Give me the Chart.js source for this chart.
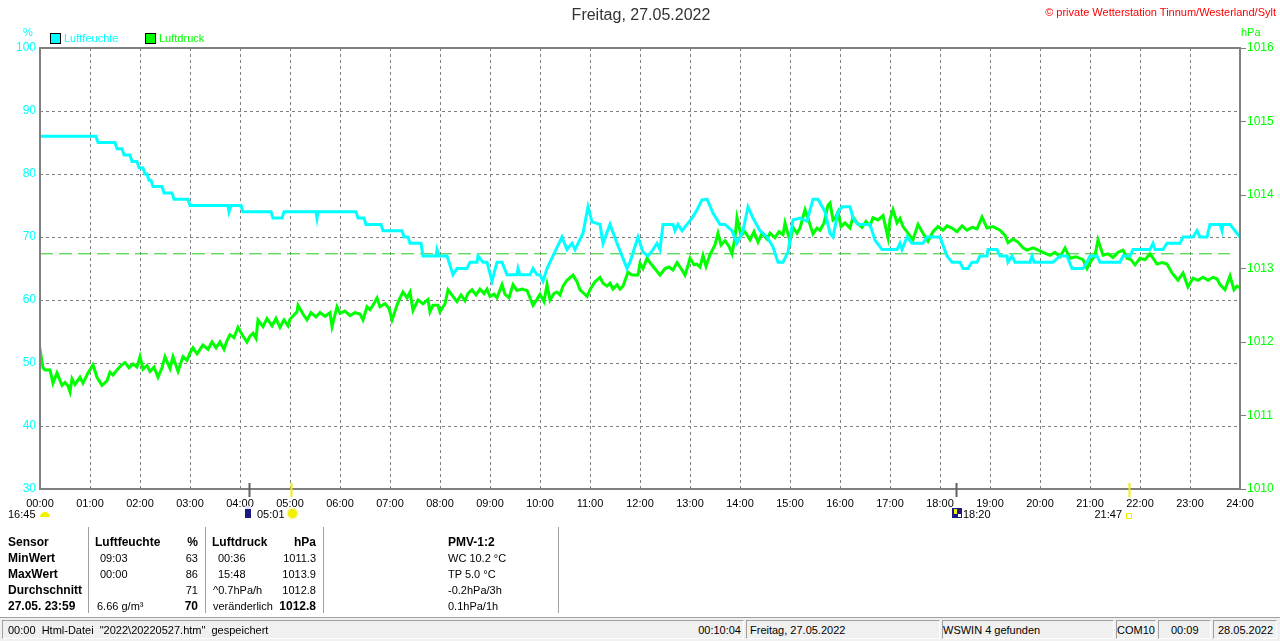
<!DOCTYPE html>
<html lang="de">
<head>
<meta charset="utf-8">
<title>Freitag, 27.05.2022</title>
<script src="https://cdn.jsdelivr.net/npm/chart.js@4.4.1/dist/chart.umd.min.js"></script>
<style>
html, body { margin: 0; padding: 0; background: #fff; }
body {
  width: 1280px; height: 641px; overflow: hidden; position: relative;
  font-family: "Liberation Sans", Arial, sans-serif; font-size: 11px; color: #000;
}
#wrap { position: absolute; left: 0; top: 0; width: 1280px; height: 520px; }
.t { position: absolute; white-space: pre; line-height: 14px; transform: translateY(-50%); }
.t.r { transform: translate(-100%, -50%); }
.t.c { transform: translate(-50%, -50%); }
.b { font-weight: bold; font-size: 12px; }
.box { position: absolute; width: 9px; height: 9px; border: 1px solid #000; }
.sep { position: absolute; top: 527px; height: 86px; width: 1px; background: #a0a0a0; border-right: 1px solid #fff; }
#status { position: absolute; left: 0; top: 617px; width: 1280px; height: 24px; background: #f0f0f0; border-top: 1px solid #a0a0a0; }
.panel { position: absolute; top: 2px; height: 19px; border-top: 1px solid #a0a0a0; border-left: 1px solid #a0a0a0;
  border-bottom: 1px solid #fff; border-right: 1px solid #fff; box-sizing: border-box; }
.icon { position: absolute; }
</style>
</head>
<body>
<div id="wrap"><canvas id="chart"></canvas></div>
<div id="status"></div>

<script>
// ── Data ───────────────────────────────────────
// hours since midnight
const humTimes = [
  0, 1.12, 1.16, 1.5, 1.54, 1.64, 1.68, 1.8, 1.84, 1.94, 1.98, 2.06, 2.1, 2.14, 2.18, 2.22, 2.26, 2.44,
  2.48, 2.64, 2.68, 2.96, 3.0, 3.76, 3.78, 3.82, 4.02, 4.06, 4.62, 4.66, 4.84, 4.88, 5.52, 5.54, 5.56,
  6.32, 6.36, 6.48, 6.52, 6.82, 6.86, 7.24, 7.28, 7.36, 7.4, 7.62, 7.66, 7.92, 7.94, 7.98, 8.14, 8.26,
  8.34, 8.54, 8.6, 8.74, 8.76, 8.86, 8.94, 9.04, 9.14, 9.24, 9.34, 9.54, 9.56, 9.6, 9.8, 9.86, 9.94,
  10.0, 10.06, 10.14, 10.26, 10.44, 10.54, 10.64, 10.7, 10.86, 10.96, 11.04, 11.2, 11.26, 11.4, 11.54,
  11.64, 11.74, 11.8, 11.96, 12.06, 12.16, 12.26, 12.34, 12.4, 12.46, 12.66, 12.7, 12.76, 12.84, 12.94,
  13.04, 13.14, 13.24, 13.34, 13.46, 13.6, 13.7, 13.84, 13.94, 14.06, 14.16, 14.26, 14.4, 14.54, 14.66,
  14.76, 14.86, 14.96, 15.06, 15.2, 15.34, 15.46, 15.56, 15.7, 15.8, 15.86, 15.96, 16.04, 16.2, 16.26,
  16.36, 16.6, 16.7, 16.84, 17.14, 17.2, 17.24, 17.34, 17.44, 17.66, 17.74, 18.0, 18.14, 18.24, 18.4,
  18.46, 18.56, 18.64, 18.74, 18.8, 18.94, 18.96, 19.14, 19.2, 19.34, 19.36, 19.44, 19.5, 19.8, 19.84,
  19.88, 20.26, 20.4, 20.54, 20.64, 20.86, 20.94, 21.0, 21.14, 21.2, 21.6, 21.66, 21.8, 21.86, 22.2,
  22.26, 22.3, 22.46, 22.54, 22.8, 22.86, 23.06, 23.14, 23.2, 23.34, 23.4, 23.6, 23.64, 23.66, 23.8,
  23.9, 24.0
];
const humValues = [
  86, 86, 85, 85, 84, 84, 83, 83, 82, 82, 81, 81, 80, 80, 79, 79, 78, 78,
  77, 77, 76, 76, 75, 75, 74, 75, 75, 74, 74, 73, 73, 74, 74, 73, 74,
  74, 73, 73, 72, 72, 71, 71, 70, 70, 69, 69, 67, 67, 68, 67, 67, 64,
  65, 65, 66, 66, 67, 66, 66, 63, 66, 66, 64, 64, 65, 64, 64, 65, 64,
  64, 63, 65, 67, 70, 68, 69, 68, 70.6, 74.8, 72.4, 72, 69, 72, 69,
  67, 65, 66, 70, 67.6, 67, 68, 69, 68, 72, 72, 71, 72, 71, 72,
  73, 74.3, 75.9, 76, 73.8, 72, 72, 71, 69, 71, 74.8, 73, 71, 70, 68.4,
  66, 66, 67.6, 72.7, 73, 72.5, 76, 76, 74, 70.6, 70, 74, 74.8, 74.8, 73,
  72, 72, 69.5, 68, 68, 69, 68, 70, 69, 69, 70, 70, 67, 66, 66,
  65, 65, 66, 66, 67, 67, 68, 68, 67, 67, 66, 67, 66, 66, 67,
  66, 66, 67, 67, 65, 65, 66, 67, 67, 66, 66, 67, 67, 68, 68,
  69, 68, 68, 69, 69, 70, 70, 71, 70, 70, 72, 72, 71, 72, 72,
  71, 70
];

const presTimes = [
  0, 0.02, 0.06, 0.1, 0.2, 0.26, 0.34, 0.44, 0.5, 0.56, 0.6, 0.64, 0.7, 0.74, 0.8, 0.86, 0.96, 1.06,
  1.14, 1.24, 1.34, 1.4, 1.46, 1.54, 1.62, 1.7, 1.78, 1.86, 1.94, 2.0, 2.06, 2.14, 2.2, 2.28, 2.36,
  2.44, 2.5, 2.6, 2.66, 2.76, 2.86, 2.94, 3.0, 3.06, 3.14, 3.2, 3.26, 3.36, 3.44, 3.52, 3.6, 3.68,
  3.74, 3.8, 3.88, 3.96, 4.06, 4.14, 4.2, 4.26, 4.32, 4.36, 4.46, 4.54, 4.64, 4.72, 4.8, 4.88, 4.96,
  5.0, 5.14, 5.16, 5.26, 5.34, 5.42, 5.52, 5.6, 5.7, 5.8, 5.84, 5.94, 6.0, 6.1, 6.2, 6.3, 6.4, 6.46,
  6.54, 6.6, 6.66, 6.74, 6.8, 6.9, 6.98, 7.04, 7.14, 7.2, 7.26, 7.34, 7.4, 7.46, 7.56, 7.66, 7.76,
  7.8, 7.86, 7.96, 8.0, 8.1, 8.16, 8.26, 8.34, 8.42, 8.5, 8.56, 8.64, 8.72, 8.8, 8.88, 8.94, 9.0,
  9.08, 9.14, 9.24, 9.3, 9.38, 9.46, 9.54, 9.64, 9.74, 9.8, 9.86, 9.94, 10.0, 10.08, 10.14, 10.2,
  10.28, 10.34, 10.4, 10.46, 10.54, 10.66, 10.74, 10.8, 10.88, 10.94, 11.0, 11.1, 11.2, 11.26, 11.34,
  11.4, 11.46, 11.54, 11.6, 11.66, 11.76, 11.84, 11.96, 12.0, 12.06, 12.14, 12.2, 12.26, 12.34, 12.4,
  12.5, 12.58, 12.66, 12.74, 12.82, 12.9, 12.96, 13.0, 13.08, 13.14, 13.2, 13.26, 13.32, 13.4, 13.5,
  13.56, 13.62, 13.7, 13.78, 13.84, 13.9, 13.94, 14.02, 14.1, 14.2, 14.28, 14.36, 14.44, 14.54, 14.6,
  14.7, 14.78, 14.86, 14.9, 15.0, 15.06, 15.14, 15.2, 15.3, 15.38, 15.46, 15.54, 15.6, 15.68, 15.76,
  15.8, 15.86, 15.9, 15.96, 16.02, 16.1, 16.2, 16.26, 16.34, 16.44, 16.52, 16.6, 16.66, 16.76, 16.86,
  16.96, 17.0, 17.06, 17.14, 17.2, 17.26, 17.36, 17.46, 17.56, 17.66, 17.76, 17.86, 17.96, 18.06,
  18.14, 18.24, 18.34, 18.44, 18.54, 18.64, 18.74, 18.84, 18.94, 19.06, 19.2, 19.3, 19.36, 19.46,
  19.56, 19.66, 19.74, 19.86, 20.0, 20.06, 20.2, 20.3, 20.4, 20.5, 20.6, 20.72, 20.86, 20.94, 21.0,
  21.1, 21.16, 21.26, 21.36, 21.46, 21.56, 21.66, 21.74, 21.82, 21.9, 22.0, 22.1, 22.2, 22.26, 22.34,
  22.44, 22.54, 22.64, 22.76, 22.86, 22.96, 23.06, 23.16, 23.26, 23.36, 23.46, 23.54, 23.6, 23.7,
  23.8, 23.88, 23.94, 24.0
];
const presValues = [
  1011.75, 1011.82, 1011.65, 1011.62, 1011.62, 1011.44, 1011.58, 1011.41, 1011.45, 1011.40, 1011.32,
  1011.50, 1011.42, 1011.46, 1011.52, 1011.44, 1011.58, 1011.69, 1011.52, 1011.41, 1011.47, 1011.59,
  1011.55, 1011.62, 1011.68, 1011.72, 1011.65, 1011.70, 1011.66, 1011.80, 1011.63, 1011.68, 1011.60,
  1011.66, 1011.52, 1011.65, 1011.80, 1011.64, 1011.80, 1011.60, 1011.80, 1011.75, 1011.85, 1011.92,
  1011.84, 1011.90, 1011.96, 1011.90, 1012.00, 1011.92, 1012.00, 1011.90, 1012.02, 1012.10, 1012.06,
  1012.20, 1012.08, 1012.00, 1012.08, 1012.12, 1012.05, 1012.30, 1012.21, 1012.32, 1012.22, 1012.32,
  1012.20, 1012.30, 1012.22, 1012.31, 1012.41, 1012.50, 1012.38, 1012.30, 1012.40, 1012.34, 1012.40,
  1012.35, 1012.40, 1012.21, 1012.48, 1012.39, 1012.42, 1012.36, 1012.40, 1012.38, 1012.30, 1012.48,
  1012.44, 1012.50, 1012.60, 1012.48, 1012.52, 1012.46, 1012.30, 1012.50, 1012.60, 1012.68, 1012.60,
  1012.68, 1012.43, 1012.57, 1012.52, 1012.58, 1012.41, 1012.50, 1012.50, 1012.41, 1012.52, 1012.71,
  1012.62, 1012.55, 1012.64, 1012.56, 1012.66, 1012.71, 1012.64, 1012.72, 1012.66, 1012.72, 1012.62,
  1012.65, 1012.60, 1012.78, 1012.65, 1012.60, 1012.78, 1012.70, 1012.72, 1012.70, 1012.60, 1012.50,
  1012.58, 1012.65, 1012.55, 1012.78, 1012.57, 1012.66, 1012.68, 1012.64, 1012.76, 1012.84, 1012.91,
  1012.82, 1012.71, 1012.66, 1012.62, 1012.71, 1012.82, 1012.88, 1012.80, 1012.76, 1012.80, 1012.72,
  1012.78, 1012.72, 1012.76, 1012.95, 1012.91, 1012.91, 1013.07, 1013.00, 1013.14, 1013.08, 1013.03,
  1012.96, 1012.91, 1013.00, 1013.02, 1012.98, 1013.08, 1013.00, 1012.91, 1013.04, 1013.14, 1013.05,
  1013.06, 1013.02, 1013.18, 1013.03, 1013.19, 1013.32, 1013.48, 1013.32, 1013.38, 1013.30, 1013.20,
  1013.42, 1013.69, 1013.45, 1013.50, 1013.39, 1013.50, 1013.36, 1013.48, 1013.40, 1013.48, 1013.42,
  1013.50, 1013.46, 1013.62, 1013.37, 1013.56, 1013.48, 1013.55, 1013.80, 1013.64, 1013.47, 1013.55,
  1013.52, 1013.62, 1013.86, 1013.89, 1013.66, 1013.68, 1013.77, 1013.57, 1013.62, 1013.55, 1013.70,
  1013.62, 1013.56, 1013.64, 1013.58, 1013.69, 1013.66, 1013.72, 1013.42, 1013.67, 1013.80, 1013.62,
  1013.68, 1013.57, 1013.48, 1013.39, 1013.60, 1013.48, 1013.37, 1013.50, 1013.57, 1013.52, 1013.58,
  1013.55, 1013.50, 1013.58, 1013.52, 1013.56, 1013.54, 1013.70, 1013.55, 1013.57, 1013.52, 1013.45,
  1013.35, 1013.40, 1013.36, 1013.28, 1013.25, 1013.28, 1013.24, 1013.22, 1013.18, 1013.22, 1013.16,
  1013.28, 1013.14, 1013.16, 1013.12, 1013.00, 1013.08, 1013.18, 1013.39, 1013.18, 1013.20, 1013.15,
  1013.22, 1013.25, 1013.14, 1013.12, 1013.05, 1013.14, 1013.12, 1013.20, 1013.14, 1013.06, 1013.08,
  1013.06, 1012.94, 1012.84, 1012.94, 1012.75, 1012.87, 1012.84, 1012.88, 1012.84, 1012.88, 1012.86,
  1012.78, 1012.71, 1012.90, 1012.71, 1012.76, 1012.74
];

const refPressure = 1013.2;               // dashed reference line
const markerTimes = [4.18, 5.02, 18.33, 21.78];
const markerColors = ['#606060', '#f0f000', '#606060', '#f0f000'];

// table below the chart
const rowLabels = ['Sensor', 'MinWert', 'MaxWert', 'Durchschnitt', '27.05. 23:59'];
const humTimeCol = ['Luftfeuchte', '09:03', '00:00', '', '6.66 g/m³'];
const humValCol = ['%', '63', '86', '71', '70'];
const presTimeCol = ['Luftdruck', '00:36', '15:48', '^0.7hPa/h', 'veränderlich'];
const presValCol = ['hPa', '1011.3', '1013.9', '1012.8', '1012.8'];
const pmvCol = ['PMV-1:2', 'WC 10.2 °C', 'TP 5.0 °C', '-0.2hPa/3h', '0.1hPa/1h'];

// ── helpers ────────────────────────────────────
function txt(x, y, s, cls, color, size) {
  const d = document.createElement('div');
  d.className = 't ' + (cls || '');
  d.textContent = s;
  d.style.left = x + 'px';
  d.style.top = y + 'px';
  if (color) d.style.color = color;
  if (size) d.style.fontSize = size + 'px';
  document.body.appendChild(d);
  return d;
}
function el(cls, css, parent) {
  const d = document.createElement('div');
  d.className = cls;
  Object.assign(d.style, css);
  (parent || document.body).appendChild(d);
  return d;
}
const toXY = (ts, vs) => ts.map((t, i) => ({ x: t, y: vs[i] }));

// ── chart ──────────────────────────────────────
const framePlugin = {
  id: 'frame',
  afterDraw(chart) {
    const { ctx, chartArea: a, scales } = chart;
    ctx.save();
    ctx.strokeStyle = '#808080';
    ctx.lineWidth = 2;
    ctx.strokeRect(a.left, a.top, a.right - a.left, a.bottom - a.top);
    markerTimes.forEach((t, i) => {
      const x = Math.round(scales.x.getPixelForValue(t)) + 0.5;
      ctx.strokeStyle = markerColors[i];
      ctx.beginPath();
      ctx.moveTo(x, a.bottom - 6);
      ctx.lineTo(x, a.bottom + 8);
      ctx.stroke();
    });
    ctx.restore();
  }
};

const tickFont = { family: '"Liberation Sans", Arial, sans-serif', size: 11 };

new Chart(document.getElementById('chart'), {
  type: 'line',
  data: {
    datasets: [
      {
        label: 'Luftfeuchte',
        data: toXY(humTimes, humValues),
        yAxisID: 'y',
        borderColor: '#00ffff',
        borderWidth: 3,
        pointRadius: 0,
        order: 1,
      },
      {
        label: 'Luftdruck',
        data: toXY(presTimes, presValues),
        yAxisID: 'y2',
        borderColor: '#00ff00',
        borderWidth: 3,
        pointRadius: 0,
        order: 2,
      },
      {
        label: 'Referenz',
        data: [{ x: 0, y: refPressure }, { x: 23.8, y: refPressure }],
        yAxisID: 'y2',
        borderColor: '#22cc22',
        borderWidth: 1,
        borderDash: [13, 6],
        pointRadius: 0,
        order: 3,
      },
    ],
  },
  options: {
    responsive: true,
    maintainAspectRatio: false,
    animation: false,
    events: [],
    layout: { padding: { top: 48, left: 0, right: 0, bottom: 0 } },
    plugins: { legend: { display: false }, tooltip: { enabled: false }, title: { display: false } },
    scales: {
      x: {
        type: 'linear', min: 0, max: 24,
        afterFit(s) { s.height = 31; },
        grid: { color: '#808080', lineWidth: 1, drawTicks: false },
        border: { display: false, dash: [3, 3] },
        ticks: {
          stepSize: 1, autoSkip: false, maxRotation: 0, padding: 8,
          color: '#000', font: tickFont,
          callback: v => String(v).padStart(2, '0') + ':00',
        },
      },
      y: {
        position: 'left', min: 30, max: 100,
        afterFit(s) { s.width = 40; },
        grid: { color: '#808080', lineWidth: 1, drawTicks: false },
        border: { display: false, dash: [3, 3] },
        ticks: { stepSize: 10, padding: 4, color: '#00ffff', font: { ...tickFont, size: 12 }, callback: v => String(v) },
      },
      y2: {
        position: 'right', min: 1010, max: 1016,
        afterFit(s) { s.width = 40; },
        grid: { drawOnChartArea: false, drawTicks: true, tickLength: 6, color: '#808080', lineWidth: 1 },
        border: { display: false },
        ticks: { stepSize: 1, padding: 1, color: '#00ff00', font: { ...tickFont, size: 12 }, callback: v => String(v) },
      },
    },
  },
  plugins: [framePlugin],
});

// ── header texts & legend ──────────────────────
txt(641, 15, 'Freitag, 27.05.2022', 'c', '#333', 16);
txt(1276, 12, '© private Wetterstation Tinnum/Westerland/Sylt', 'r', '#ff0000', 11);
txt(23, 32, '%', '', '#00ffff', 11);
txt(1241, 32, 'hPa', '', '#00ff00', 11);
el('box', { left: '50px', top: '33px', background: '#00ffff' });
txt(64, 38, 'Luftfeuchte', '', '#00ffff');
el('box', { left: '145px', top: '33px', background: '#00ff00' });
txt(159, 38, 'Luftdruck', '', '#00ff00');

// ── sun / moon row ─────────────────────────────
txt(8, 514, '16:45');
el('icon', { left: '40px', top: '512px', width: '10px', height: '5px', background: '#f0f000', borderRadius: '5px 5px 0 0' });
el('icon', { left: '245px', top: '506px', width: '6px', height: '12px', background: '#1a1a80', borderTop: '3px solid #e0e0ff', boxSizing: 'border-box' });
txt(257, 514, '05:01');
el('icon', { left: '288px', top: '509px', width: '9px', height: '9px', background: '#f0f000', borderRadius: '50%', boxShadow: '0 0 2px 1px #f8f080' });
el('icon', { left: '952px', top: '508px', width: '10px', height: '10px', background: '#1a1a80' });
el('icon', { left: '954px', top: '509px', width: '3px', height: '5px', background: '#f0f000' });
el('icon', { left: '958px', top: '514px', width: '3px', height: '3px', background: '#ffffff' });
txt(963, 514, '18:20');
txt(1122, 514, '21:47', 'r');
el('icon', { left: '1126px', top: '513px', width: '4px', height: '4px', border: '1px solid #f0f000' });

// ── statistics table ───────────────────────────
[88, 205, 323, 558].forEach(x => el('sep', { left: x + 'px' }));
rowLabels.forEach((s, i) => {
  const y = 542 + i * 16;
  const head = i === 0;
  const strong = head || i === 4;
  txt(8, y, s, 'b');
  if (humTimeCol[i]) txt(head ? 95 : (i === 4 ? 97 : 100), y, humTimeCol[i], head ? 'b' : '');
  txt(198, y, humValCol[i], 'r' + (strong ? ' b' : ''));
  txt(head ? 212 : (i >= 3 ? 213 : 218), y, presTimeCol[i], head ? 'b' : '');
  txt(316, y, presValCol[i], 'r' + (strong ? ' b' : ''));
  txt(448, y, pmvCol[i], head ? 'b' : '');
});

// ── status bar ─────────────────────────────────
const status = document.getElementById('status');
const panels = [[2, 744], [746, 940], [942, 1114], [1116, 1156], [1158, 1211], [1213, 1277]];
panels.forEach(([l, r]) => el('panel', { left: l + 'px', width: (r - l) + 'px' }, status));
txt(8, 630, '00:00  Html-Datei  "2022\\20220527.htm"  gespeichert');
txt(741, 630, '00:10:04', 'r');
txt(750, 630, 'Freitag, 27.05.2022');
txt(943, 630, 'WSWIN 4 gefunden');
txt(1117, 630, 'COM10');
txt(1171, 630, '00:09');
txt(1218, 630, '28.05.2022');
</script>
</body>
</html>
